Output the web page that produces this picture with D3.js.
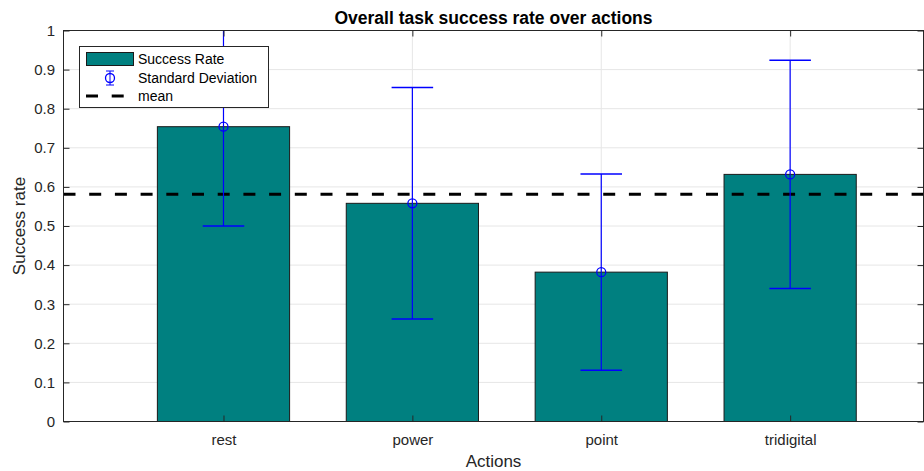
<!DOCTYPE html>
<html>
<head>
<meta charset="utf-8">
<script src="https://cdn.jsdelivr.net/npm/d3@7"></script>
<style>
  html, body { margin: 0; padding: 0; background: #fff; }
  svg text { font-family: "Liberation Sans", Arial, Helvetica, sans-serif; fill: #262626; }
</style>
</head>
<body>
<svg id="chart" width="924" height="471"></svg>
<script>
// Success rate per action with its standard deviation
const actions = ["rest", "power", "point", "tridigital"];
const successRate = [0.754, 0.558, 0.382, 0.632];
const stdDev = [0.254, 0.296, 0.251, 0.292];
const yTicks = [0, 0.1, 0.2, 0.3, 0.4, 0.5, 0.6, 0.7, 0.8, 0.9, 1];
const legendLabels = ["Success Rate", "Standard Deviation", "mean"];

const meanRate = d3.mean(successRate);

const svg = d3.select("#chart");
const plot = { left: 63.5, right: 923.5, top: 30.5, bottom: 421.5 };

// category index 1..n on a linear axis
const x = d3.scaleLinear().domain([0.153, 4.706]).range([plot.left, plot.right]);
const y = d3.scaleLinear().domain([0, 1]).range([plot.bottom, plot.top]);
const barW = x(1.35) - x(1);
const capW = x(1.11) - x(1);

svg.append("defs").append("clipPath").attr("id", "plotClip")
  .append("rect").attr("x", plot.left).attr("y", plot.top)
  .attr("width", plot.right - plot.left).attr("height", plot.bottom - plot.top);

// grid
const grid = svg.append("g");
grid.selectAll("line.gy").data(yTicks).join("line")
  .attr("x1", plot.left).attr("x2", plot.right)
  .attr("y1", d => y(d)).attr("y2", d => y(d))
  .attr("stroke", "#e6e6e6").attr("stroke-width", 1);
grid.selectAll("line.gx").data(actions).join("line")
  .attr("x1", (d, i) => x(i + 1)).attr("x2", (d, i) => x(i + 1))
  .attr("y1", plot.top).attr("y2", plot.bottom)
  .attr("stroke", "#e6e6e6").attr("stroke-width", 1);

const g = svg.append("g").attr("clip-path", "url(#plotClip)");

// bars
g.selectAll("rect.bar").data(successRate).join("rect")
  .attr("class", "bar")
  .attr("x", (d, i) => x(i + 1) - barW)
  .attr("width", barW * 2)
  .attr("y", d => y(d))
  .attr("height", d => y(0) - y(d))
  .attr("fill", "#008080")
  .attr("stroke", "#1a1a1a").attr("stroke-width", 1);

// mean line
g.append("line")
  .attr("x1", plot.left).attr("x2", plot.right)
  .attr("y1", y(meanRate)).attr("y2", y(meanRate))
  .attr("stroke", "#000").attr("stroke-width", 3)
  .attr("stroke-dasharray", "12,13.7");

// error bars
const eb = g.selectAll("g.eb").data(successRate).join("g").attr("class", "eb");
eb.append("line")
  .attr("x1", (d, i) => x(i + 1)).attr("x2", (d, i) => x(i + 1))
  .attr("y1", (d, i) => y(d - stdDev[i])).attr("y2", (d, i) => y(d + stdDev[i]))
  .attr("stroke", "#0000ff").attr("stroke-width", 1.2);
eb.append("line")
  .attr("x1", (d, i) => x(i + 1) - capW).attr("x2", (d, i) => x(i + 1) + capW)
  .attr("y1", (d, i) => y(d - stdDev[i])).attr("y2", (d, i) => y(d - stdDev[i]))
  .attr("stroke", "#0000ff").attr("stroke-width", 1.5);
eb.append("line")
  .attr("x1", (d, i) => x(i + 1) - capW).attr("x2", (d, i) => x(i + 1) + capW)
  .attr("y1", (d, i) => y(d + stdDev[i])).attr("y2", (d, i) => y(d + stdDev[i]))
  .attr("stroke", "#0000ff").attr("stroke-width", 1.5);
eb.append("circle")
  .attr("cx", (d, i) => x(i + 1)).attr("cy", d => y(d)).attr("r", 4.5)
  .attr("fill", "none").attr("stroke", "#0000ff").attr("stroke-width", 1.3);

// axes box
const axisColor = "#262626";
svg.append("rect")
  .attr("x", plot.left).attr("y", plot.top)
  .attr("width", plot.right - plot.left).attr("height", plot.bottom - plot.top)
  .attr("fill", "none").attr("stroke", axisColor).attr("stroke-width", 1);

// y axis left and right
const yAxisL = d3.axisLeft(y).tickValues(yTicks).tickSize(-6).tickPadding(8.5)
  .tickFormat(d => d3.format("")(+d.toFixed(1)));
const gyl = svg.append("g").attr("transform", `translate(${plot.left},0)`).call(yAxisL);
gyl.select(".domain").remove();
gyl.selectAll(".tick line").attr("stroke", axisColor);
gyl.selectAll(".tick text").attr("font-size", 15).attr("fill", "#262626");

const yAxisR = d3.axisRight(y).tickValues(yTicks).tickSize(-6).tickFormat("");
const gyr = svg.append("g").attr("transform", `translate(${plot.right},0)`).call(yAxisR);
gyr.select(".domain").remove();
gyr.selectAll(".tick line").attr("stroke", axisColor);

// x axis bottom and top
const xAxisB = d3.axisBottom(x).tickValues([1, 2, 3, 4]).tickSize(-6).tickPadding(13)
  .tickFormat(d => actions[d - 1]);
const gxb = svg.append("g").attr("transform", `translate(0,${plot.bottom})`).call(xAxisB);
gxb.select(".domain").remove();
gxb.selectAll(".tick line").attr("stroke", axisColor);
gxb.selectAll(".tick text").attr("font-size", 15).attr("fill", "#262626");

const xAxisT = d3.axisTop(x).tickValues([1, 2, 3, 4]).tickSize(-6).tickFormat("");
const gxt = svg.append("g").attr("transform", `translate(0,${plot.top})`).call(xAxisT);
gxt.select(".domain").remove();
gxt.selectAll(".tick line").attr("stroke", axisColor);

// titles
svg.append("text").attr("x", (plot.left + plot.right) / 2).attr("y", 24)
  .attr("text-anchor", "middle").attr("font-size", 17.5).attr("font-weight", "bold")
  .style("fill", "#000").text("Overall task success rate over actions");
svg.append("text").attr("x", (plot.left + plot.right) / 2).attr("y", 466.5)
  .attr("text-anchor", "middle").attr("font-size", 17).text("Actions");
svg.append("text")
  .attr("transform", `translate(25,${(plot.top + plot.bottom) / 2}) rotate(-90)`)
  .attr("text-anchor", "middle").attr("font-size", 17).text("Success rate");

// legend
const lg = svg.append("g");
lg.append("rect").attr("x", 79.5).attr("y", 46.5).attr("width", 189).attr("height", 61)
  .attr("fill", "#fff").attr("stroke", axisColor).attr("stroke-width", 1);
const rowY = [59, 78, 96];
lg.append("rect").attr("x", 86.5).attr("y", 52.5).attr("width", 47).attr("height", 13)
  .attr("fill", "#008080").attr("stroke", "#1a1a1a");
const ex = 110;
lg.append("line").attr("x1", ex).attr("x2", ex).attr("y1", rowY[1] - 7).attr("y2", rowY[1] + 7)
  .attr("stroke", "#0000ff");
lg.append("line").attr("x1", ex - 4).attr("x2", ex + 4).attr("y1", rowY[1] - 7).attr("y2", rowY[1] - 7)
  .attr("stroke", "#0000ff");
lg.append("line").attr("x1", ex - 4).attr("x2", ex + 4).attr("y1", rowY[1] + 7).attr("y2", rowY[1] + 7)
  .attr("stroke", "#0000ff");
lg.append("circle").attr("cx", ex).attr("cy", rowY[1]).attr("r", 4.5)
  .attr("fill", "none").attr("stroke", "#0000ff").attr("stroke-width", 1.3);
lg.append("line").attr("x1", 86).attr("x2", 133).attr("y1", rowY[2]).attr("y2", rowY[2])
  .attr("stroke", "#000").attr("stroke-width", 3).attr("stroke-dasharray", "12,13.7");
lg.selectAll("text.lab").data(legendLabels).join("text")
  .attr("x", 138).attr("y", (d, i) => rowY[i]).attr("dy", "0.35em")
  .attr("font-size", 14).style("fill", "#000").text(d => d);
</script>
</body>
</html>
